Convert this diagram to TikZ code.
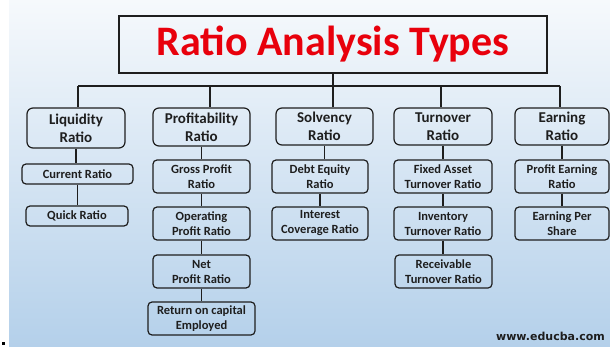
\documentclass[tikz,border=0pt]{standalone}
\usepackage{fontspec}
\setmainfont{Carlito}
\newfontfamily\wmfont{DejaVu Sans}
\definecolor{bgtop}{RGB}{246,249,252}
\definecolor{bgbot}{RGB}{180,208,234}
\definecolor{titlered}{RGB}{232,0,12}
\definecolor{ink}{RGB}{30,30,30}
\tikzset{
  catbox/.style={draw=ink, line width=1.2pt, rounded corners=6pt, align=center,
    text=ink, font=\fontsize{15}{18}\selectfont\bfseries, inner sep=0pt},
  subbox/.style={draw=ink, line width=1.2pt, rounded corners=4pt, align=center,
    text=ink, font=\fontsize{12.5}{15}\selectfont\bfseries, inner sep=0pt},
  conn/.style={draw=ink, line width=1.2pt},
}
\begin{document}
\begin{tikzpicture}[x=1pt,y=-1pt]
\useasboundingbox (0,0) rectangle (610,347);
\fill[white] (0,0) rectangle (610,347);
\shade[top color=bgtop, bottom color=bgbot] (9,0) rectangle (610,347);
\fill[black] (2,342) rectangle (5,345);

\node[draw=ink, line width=1.5pt, minimum width=428pt, minimum height=57pt, inner sep=0pt,
  text=titlered, font=\fontsize{42}{42}\selectfont\bfseries] (title) at (333,44.5) {Ratio Analysis Types};

% categories
\node[catbox, minimum width=98pt, minimum height=40pt] (liq) at (76,128) {Liquidity\\Ratio};
\node[catbox, minimum width=97pt, minimum height=38pt] (prof) at (201.5,127) {Profitability\\Ratio};
\node[catbox, minimum width=97pt, minimum height=37pt] (solv) at (324.5,126.5) {Solvency\\Ratio};
\node[catbox, minimum width=98pt, minimum height=37pt] (turn) at (443,126.5) {Turnover\\Ratio};
\node[catbox, minimum width=94pt, minimum height=37pt] (earn) at (562,126.5) {Earning\\Ratio};

% sub boxes
\node[subbox, minimum width=111pt, minimum height=20pt] (cur) at (77.5,174) {Current Ratio};
\node[subbox, minimum width=102pt, minimum height=20pt] (quick) at (77,216) {Quick Ratio};

\node[subbox, minimum width=97pt, minimum height=33pt] (gross) at (201.5,176.5) {Gross Profit\\Ratio};
\node[subbox, minimum width=97pt, minimum height=33pt] (oper) at (201.5,223.5) {Operating\\Profit Ratio};
\node[subbox, minimum width=97pt, minimum height=33pt] (net) at (201.5,271.5) {Net\\Profit Ratio};
\node[subbox, minimum width=107pt, minimum height=33pt] (ret) at (201.5,318.5) {Return on capital\\Employed};

\node[subbox, minimum width=96pt, minimum height=33pt] (debt) at (320,176.5) {Debt Equity\\Ratio};
\node[subbox, minimum width=96pt, minimum height=33pt] (int) at (320,223.5) {Interest\\Coverage Ratio};

\node[subbox, minimum width=98pt, minimum height=33pt] (fixed) at (443,176.5) {Fixed Asset\\Turnover Ratio};
\node[subbox, minimum width=98pt, minimum height=33pt] (inv) at (443,223.5) {Inventory\\Turnover Ratio};
\node[subbox, minimum width=97pt, minimum height=33pt] (rec) at (443.5,271.5) {Receivable\\Turnover Ratio};

\node[subbox, minimum width=94pt, minimum height=33pt] (pe) at (562,176.5) {Profit Earning\\Ratio};
\node[subbox, minimum width=94pt, minimum height=33pt] (eps) at (562,223.5) {Earning Per\\Share};

% bus
\coordinate (hub) at (333,86);
\coordinate (b1) at (78,86);
\coordinate (b2) at (210,86);
\coordinate (b3) at (333,86);
\coordinate (b4) at (441,86);
\coordinate (b5) at (560,86);
\draw[conn] (title.south) -- (hub);
\draw[conn] (b1) -- (b5);
\draw[conn] (b1) -- (b1 |- liq.north);
\draw[conn] (b2) -- (b2 |- prof.north);
\draw[conn] (b3) -- (b3 |- solv.north);
\draw[conn] (b4) -- (b4 |- turn.north);
\draw[conn] (b5) -- (b5 |- earn.north);

% chains
\draw[conn] (liq.south) -- (liq.south |- cur.north);
\draw[conn] (cur.south) -- (cur.south |- quick.north);
\draw[conn] (prof.south) -- (prof.south |- gross.north);
\draw[conn] (gross.south) -- (gross.south |- oper.north);
\draw[conn] (oper.south) -- (oper.south |- net.north);
\draw[conn] (net.south) -- (net.south |- ret.north);
\draw[conn] (solv.south) -- (solv.south |- debt.north);
\draw[conn] (debt.south) -- (debt.south |- int.north);
\draw[conn] (turn.south) -- (turn.south |- fixed.north);
\draw[conn] (fixed.south) -- (fixed.south |- inv.north);
\draw[conn] (inv.south) -- (inv.south |- rec.north);
\draw[conn] (earn.south) -- (earn.south |- pe.north);
\draw[conn] (pe.south) -- (pe.south |- eps.north);

\node[anchor=east, inner sep=0pt, text=ink, font=\wmfont\bfseries\fontsize{11}{13}\selectfont] (wm) at (605,336) {www.educba.com};
\end{tikzpicture}
\end{document}
